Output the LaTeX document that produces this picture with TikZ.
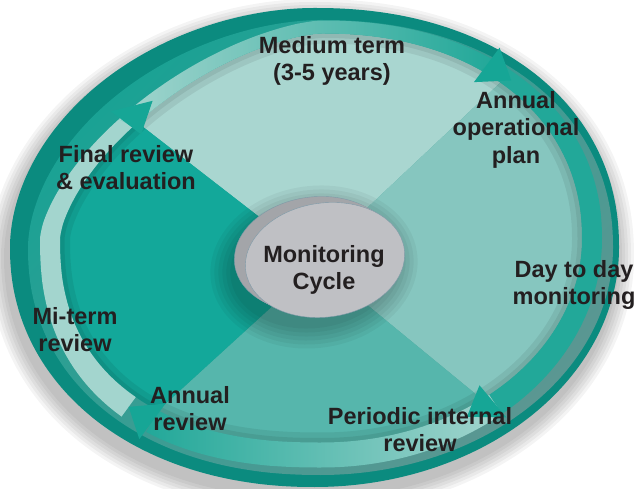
\documentclass[tikz,border=0pt]{standalone}
\usepackage{fontspec}
\setmainfont{Liberation Sans}
\usepackage{xcolor}

\definecolor{diskdark}{HTML}{0B8B7F}
\definecolor{rimlight}{HTML}{19A294}
\definecolor{rimdark}{HTML}{5B9792}
\definecolor{bandlight}{HTML}{A3D5CE}
\definecolor{bandteal}{HTML}{22A899}
\definecolor{headteal}{HTML}{16A696}
\definecolor{qtop}{HTML}{A9D6D0}
\definecolor{qright}{HTML}{86C6BF}
\definecolor{qbottom}{HTML}{56B6AC}
\definecolor{qleft}{HTML}{13A89A}
\definecolor{coinface}{HTML}{BFC0C4}
\definecolor{coinside}{HTML}{A3A5A9}
\definecolor{coinline}{HTML}{7E9AA8}
\definecolor{textcol}{HTML}{231F20}

% rounded outline: centre, half widths (left/right), half heights (top/bottom)
\newcommand{\setshape}[6]{\def\scx{#1}\def\scy{#2}\def\sal{#3}\def\sar{#4}\def\sbt{#5}\def\sbb{#6}}
% exponent per quarter: upper left, upper right, lower right, lower left
\newcommand{\setbend}[4]{\def\pul{#1}\def\pur{#2}\def\plr{#3}\def\pll{#4}}
\pgfmathdeclarefunction{shp}{1}{%
  \pgfmathparse{(cos(#1)<0) ? ((sin(#1)>0) ? \pul : \pll) : ((sin(#1)>0) ? \pur : \plr)}}
\pgfmathdeclarefunction{shx}{2}{%
  \pgfmathparse{\scx + ((cos(#1)<0) ? -(\sal+#2) : (\sar+#2)) * (abs(cos(#1))+0.00001)^(shp(#1))}}
\pgfmathdeclarefunction{shy}{3}{%
  \pgfmathparse{\scy + ((sin(#1)<0) ? -(\sbb+#3) : (\sbt+#2)) * (abs(sin(#1))+0.00001)^(shp(#1))}}

\begin{document}
\begin{tikzpicture}[
  x=1pt, y=1pt,
  lbl/.style={font=\fontsize{23.5}{27.5}\selectfont\bfseries, text=textcol, align=center, inner sep=0pt},
  outline/.style={smooth cycle, domain=0:357, samples=120, variable=\t},
  along/.style={smooth, samples=40, variable=\t}
]
% Page
\useasboundingbox (0,0) rectangle (634,489);
\fill[white] (0,0) rectangle (634,489);

% Soft shadow behind the disk
\setshape{314.5}{241.5}{304.5}{304.5}{239.5}{239.5}\setbend{1.05}{0.93}{1}{0.95}
\foreach \s in {3,6,...,18}
  \fill[black, opacity=0.045, shift={(-3,-9)}] plot[outline] ({shx(\t,\s)},{shy(\t,\s,\s)}) -- cycle;

% Back of the disk
\fill[diskdark] plot[outline] ({shx(\t,0)},{shy(\t,0,0)}) -- cycle;

% Bevel ring
\setshape{320.5}{241.5}{292.5}{292.5}{227.5}{227.5}\setbend{1.1}{0.93}{1}{0.92}
\shade[top color=rimlight, middle color=rimlight, bottom color=rimdark, shading angle=45]
  plot[outline] ({shx(\t,0)},{shy(\t,0,0)}) -- cycle;

% Band geometry (centre line of the arrows)
\setshape{322}{250}{272}{270}{212}{216}\setbend{1.3}{0.93}{1}{0.85}

% Face quadrants
\begin{scope}
  \clip plot[outline] ({shx(\t,-10)},{shy(\t,-6.5,-12.5)}) -- cycle;
  \fill[qtop] (318,228) -- (280,256) -- (40,442) -- (-100,700) -- (800,700) -- (604,504) -- (350,265) -- cycle;
  \fill[qright] (318,228) -- (350,265) -- (604,504) -- (800,700) -- (800,-200) -- (595,-3) -- (360,190) -- cycle;
  \fill[qbottom] (318,228) -- (360,190) -- (595,-3) -- (800,-200) -- (-100,-200) -- (23,-45) -- (290,199) -- cycle;
  \fill[qleft] (318,228) -- (290,199) -- (23,-45) -- (-100,-200) -- (-100,700) -- (40,442) -- (280,256) -- cycle;
  % inner shade along the rim
  \draw[black, opacity=0.07, line width=20pt] plot[outline] ({shx(\t,-10)},{shy(\t,-6.5,-12.5)}) -- cycle;
  \draw[black, opacity=0.07, line width=9pt] plot[outline] ({shx(\t,-10)},{shy(\t,-6.5,-12.5)}) -- cycle;
\end{scope}

% Cycle arrows: bodies
\fill[bandlight] plot[along, domain=228:141] ({shx(\t,10)},{shy(\t,6.5,12.5)})
  -- plot[along, domain=141:228] ({shx(\t,-10)},{shy(\t,-6.5,-12.5)}) -- cycle;
\fill[bandteal] plot[along, domain=54:-50] ({shx(\t,10)},{shy(\t,6.5,12.5)})
  -- plot[along, domain=-50:54] ({shx(\t,-10)},{shy(\t,-6.5,-12.5)}) -- cycle;
\shade[left color=bandlight, middle color=bandlight, right color=bandteal]
  plot[along, domain=141:54] ({shx(\t,10)},{shy(\t,6.5,12.5)})
  -- plot[along, domain=54:141] ({shx(\t,-10)},{shy(\t,-6.5,-12.5)}) -- cycle;
\shade[left color=bandteal, right color=bandlight]
  plot[along, domain=-50:-125] ({shx(\t,10)},{shy(\t,6.5,12.5)})
  -- plot[along, domain=-125:-50] ({shx(\t,-10)},{shy(\t,-6.5,-12.5)}) -- cycle;

% Cycle arrows: heads
\fill[headteal] ({shx(54,21)},{shy(54,21,21)}) -- ({shx(47,0)},{shy(47,0,0)}) -- ({shx(54,-21)},{shy(54,-21,-21)}) -- cycle;
\fill[headteal] ({shx(-50,17)},{shy(-50,17,17)}) -- ({shx(-57,-4)},{shy(-57,-4,-4)}) -- ({shx(-50,-25)},{shy(-50,-25,-25)}) -- cycle;
\fill[headteal] ({shx(-125,21)},{shy(-125,21,21)}) -- ({shx(-132,0)},{shy(-132,0,0)}) -- ({shx(-125,-21)},{shy(-125,-21,-21)}) -- cycle;
\fill[headteal] ({shx(141,21)},{shy(141,21,21)}) -- ({shx(134,0)},{shy(134,0,0)}) -- ({shx(141,-21)},{shy(141,-21,-21)}) -- cycle;

% Coin shadow
\foreach \s in {4,8,...,24}
  \fill[black, opacity=0.045, shift={(314,222)}, rotate=8] (0,0) ellipse [x radius=80+\s, y radius=57+\s];

% Coin side and face
\filldraw[fill=coinside, draw=coinline, thin, shift={(314,235)}, rotate=8] (0,0) ellipse [x radius=80, y radius=57];
\foreach \d in {0.25,0.5,0.75}
  \fill[coinside, shift={({314+11*\d},{235-6*\d})}, rotate=8] (0,0) ellipse [x radius=80, y radius=57];
\filldraw[fill=coinface, draw=coinline, thin, shift={(325,229)}, rotate=8] (0,0) ellipse [x radius=80, y radius=57];

% Labels
\node[lbl] (monitoring) at (324,219) {Monitoring\\Cycle};
\node[lbl] (medium) at (332,428) {Medium term\\(3-5 years)};
\node[lbl] (annualplan) at (516,359.5) {Annual\\operational\\plan};
\node[lbl] (daytoday) at (574,204) {Day to day\\monitoring};
\node[lbl] (periodic) at (420,59.5) {Periodic internal\\review};
\node[lbl] (annualreview) at (190,80.5) {Annual\\review};
\node[lbl] (miterm) at (75,159.5) {Mi-term\\review};
\node[lbl] (finalreview) at (126,321.5) {Final review\\\& evaluation};
\end{tikzpicture}
\end{document}
